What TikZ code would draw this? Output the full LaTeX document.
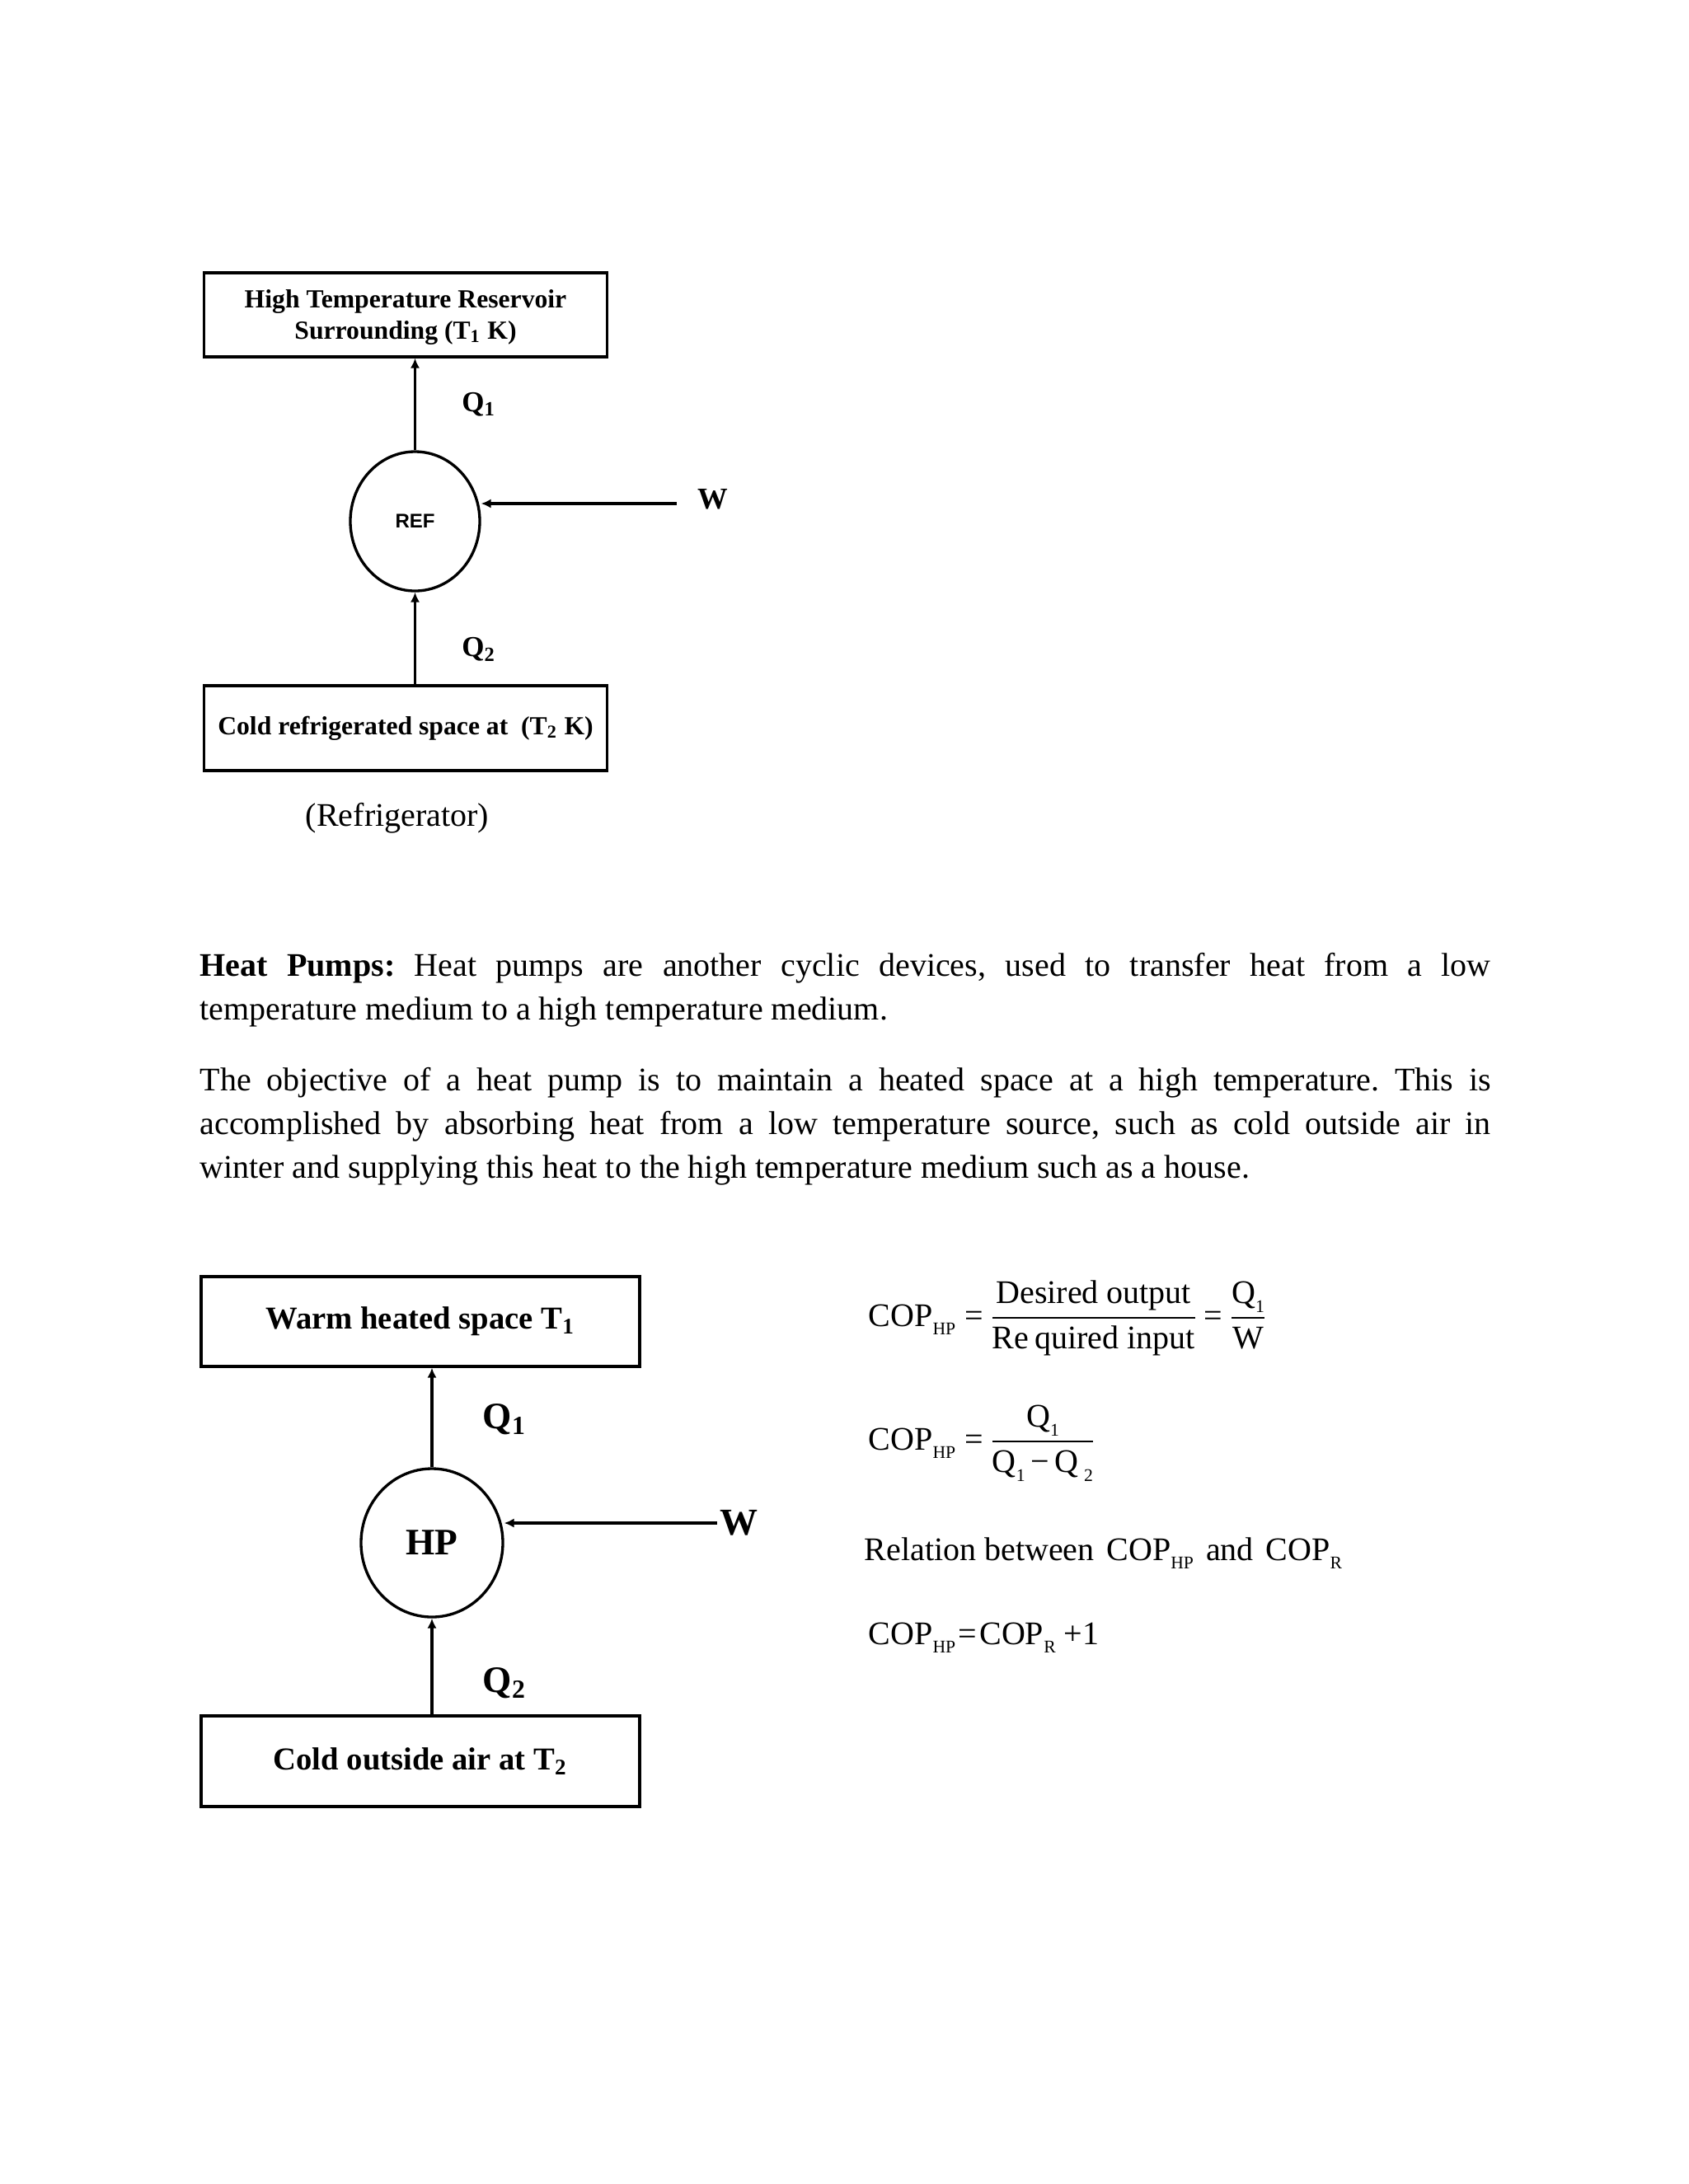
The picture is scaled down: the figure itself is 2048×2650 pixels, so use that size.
\documentclass[tikz,border=0pt]{standalone}
\usepackage{fontspec}
\setmainfont{Liberation Serif}
\newfontfamily\arialfont{Liberation Sans}
\usetikzlibrary{arrows.meta,shapes.geometric}
\newcommand{\lowtxt}[1]{\raisebox{-3.2pt}{\fontsize{6.5}{6.5}\selectfont #1}}
\newcommand{\eqsign}{\mathrel{\mbox{=}}}
\hyphenpenalty=10000
\frenchspacing
\nulldelimiterspace=0pt
\begin{document}
\begin{tikzpicture}[>={Latex[length=3.6pt,width=3.4pt]},x=0.29995pt,y=-0.29995pt,
  box/.style={draw,line width=1pt,inner sep=0pt,align=center},
  engine/.style={draw,ellipse,line width=1pt,inner sep=0pt},
  flow/.style={->,line width=1.1pt},
  work/.style={->,line width=1.1pt},
  para/.style={anchor=base west,inner sep=0pt,text width=6.5in,align=justify,font=\fontsize{12}{16}\selectfont},
  eqn/.style={anchor=base west,inner sep=0pt,font=\fontsize{12}{14}\selectfont}]
  \useasboundingbox (0,0) rectangle (2048,2650);
  % refrigerator
  \node[box,minimum width=146.7pt,minimum height=30.6pt,font=\bfseries\fontsize{9.5}{11.4}\selectfont] (HTR) at (492,382) {\rule{0pt}{8.2pt}High Temperature Reservoir\\Surrounding (T\textsubscript{1} K)};
  \node[box,minimum width=146.7pt,minimum height=30.9pt,font=\bfseries\fontsize{9.5}{11.4}\selectfont] (CRS) at (492,883.5) {Cold refrigerated space at~~(T\textsubscript{2} K)};
  \node[engine,minimum width=47.1pt,minimum height=50.7pt,font=\arialfont\bfseries\fontsize{7.2}{8}\selectfont] (REF) at (503.5,632.5) {REF};
  \node[inner sep=0pt,font=\bfseries\fontsize{11}{11}\selectfont] (Wr) at (864.5,605.5) {W};
  \coordinate (Wr0) at (821,611);
  \draw[flow] (REF.north) -- (HTR.south -| REF.north) node[midway,right=16.5pt,inner sep=0pt,font=\bfseries\fontsize{10.5}{10.5}\selectfont] (Q1r) {Q\textsubscript{1}};
  \draw[flow] (CRS.north -| REF.south) -- (REF.south) node[pos=0.38,right=16.5pt,inner sep=0pt,font=\bfseries\fontsize{10.5}{10.5}\selectfont] (Q2r) {Q\textsubscript{2}};
  \draw[work] (Wr0) -- (Wr0 -| REF.east);
  \node[anchor=base,inner sep=0pt,font=\fontsize{12}{14}\selectfont] (cap) at (482,1002) {(Refrigerator)};
  % text
  \node[para] (par1) at (242,1184) {\textbf{Heat Pumps:} Heat pumps are another cyclic devices, used to transfer heat from a low\linebreak temperature medium to a high temperature medium.};
  \node[para] (par2) at (242,1323) {The objective of a heat pump is to maintain a heated space at a high temperature. This is\linebreak accomplished by absorbing heat from a low temperature source, such as cold outside air in\linebreak winter and supplying this heat to the high temperature medium such as a house.};
  % heat pump
  \node[box,minimum width=159.6pt,minimum height=32.7pt,font=\bfseries\fontsize{11.6}{13}\selectfont] (WHS) at (510,1603.5) {Warm heated space T\textsubscript{1}};
  \node[box,minimum width=159.6pt,minimum height=33pt,font=\bfseries\fontsize{11.6}{13}\selectfont] (COA) at (510,2137) {Cold outside air at T\textsubscript{2}};
  \node[engine,minimum width=51.6pt,minimum height=54pt,font=\bfseries\fontsize{13.6}{14}\selectfont] (HP) at (524,1872) {HP};
  \node[inner sep=0pt,font=\bfseries\fontsize{13.8}{14}\selectfont] (Wh) at (896,1848) {W};
  \coordinate (Wh0) at (870,1848);
  \draw[flow] (HP.north) -- (WHS.south -| HP.north) node[pos=0.48,right=18pt,inner sep=0pt,font=\bfseries\fontsize{13.6}{14}\selectfont] (Q1h) {Q\textsubscript{1}};
  \draw[flow] (COA.north -| HP.south) -- (HP.south) node[pos=0.33,right=18pt,inner sep=0pt,font=\bfseries\fontsize{13.6}{14}\selectfont] (Q2h) {Q\textsubscript{2}};
  \draw[work] (Wh0) -- (Wh0 -| HP.east);
  % COP relations
  \node[eqn] (eqA) at (1053,1609) {$\displaystyle \mbox{COP\lowtxt{HP}} \eqsign \frac{\mbox{Desired output}}{\mbox{Re\,quired input}} \eqsign \frac{\mbox{Q\lowtxt{1}}}{\mbox{W}}$};
  \node[eqn] (eqB) at (1053,1759) {$\displaystyle \mbox{COP\lowtxt{HP}} \eqsign \frac{\mbox{Q\lowtxt{1}}}{\mbox{Q\lowtxt{1}\,−\,Q\,\lowtxt{2}}}$};
  \node[eqn] (rel) at (1048,1893) {Relation between\hspace{4.5pt}COP\lowtxt{HP}\hspace{4.5pt}and\hspace{4.5pt}COP\lowtxt{R}};
  \node[eqn] (eqC) at (1053,1995) {COP\lowtxt{HP}\hspace{1pt}=\hspace{1pt}COP\lowtxt{R} +1};
\end{tikzpicture}
\end{document}
